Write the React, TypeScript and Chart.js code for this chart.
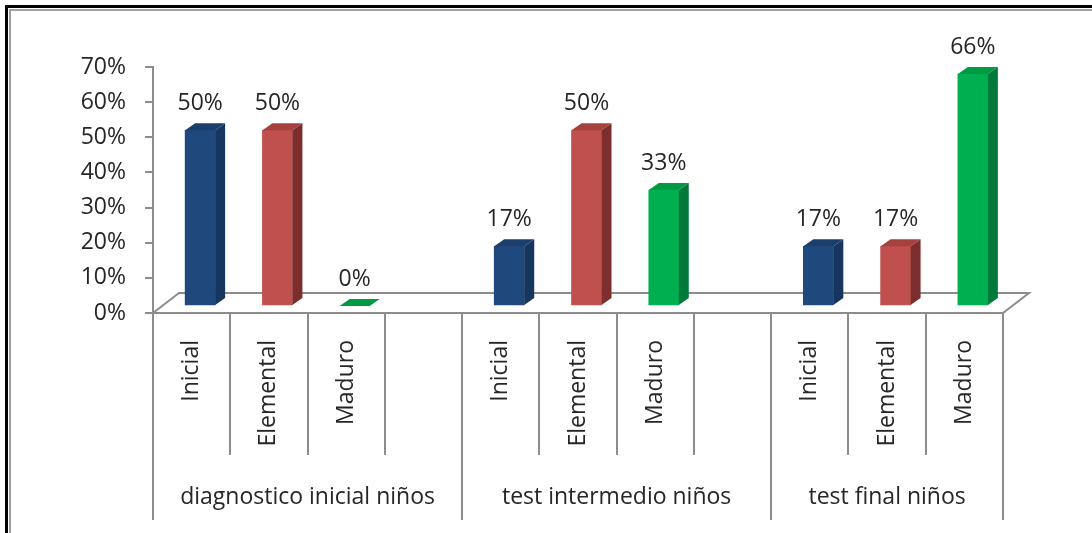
import React, { useEffect, useRef } from "react";
import { Chart, registerables } from "chart.js";

Chart.register(...registerables);

// ---------- data ----------
const categoryLabels = [
  "Inicial", "Elemental", "Maduro", "",
  "Inicial", "Elemental", "Maduro", "",
  "Inicial", "Elemental", "Maduro",
];
const groupLabels = ["diagnostico inicial niños", "test intermedio niños", "test final niños"];
const groupSlots = [4, 4, 3];
const levelNames = ["Inicial", "Elemental", "Maduro"];
const inicial = [0.5, 0.17, 0.17];
const elemental = [0.5, 0.5, 0.17];
const maduro = [0, 0.33, 0.66];
const yTickValues = [0, 0.1, 0.2, 0.3, 0.4, 0.5, 0.6, 0.7];
const yTickLabels = ["0%", "10%", "20%", "30%", "40%", "50%", "60%", "70%"];

// ---------- styles ----------
const frontColors = ["#1F497D", "#C0504D", "#00B050"];
const topColors = ["#1B3F6D", "#A3423F", "#009A45"];
const sideColors = ["#17365D", "#7B2E2C", "#00793A"];
const LINE = "#8C8C8C";
const TEXT = "#262626";
const FONT = "'Open Sans', 'Noto Sans', sans-serif";
const BAR_SHIFT = { x: 8.5, y: -7 };
const DEPTH = { x: 10, y: -7 };
const FLOOR = { x: 26, y: -20 };

const seriesValues = [inicial, elemental, maduro];
const groupStarts: number[] = [];
{
  let s = 0;
  for (const n of groupSlots) {
    groupStarts.push(s);
    s += n;
  }
}

const datasets = levelNames.map((name, li) => {
  const data: (number | null)[] = categoryLabels.map(() => null);
  seriesValues[li].forEach((v, g) => {
    data[groupStarts[g] + li] = v;
  });
  return {
    label: name,
    data,
    backgroundColor: frontColors[li],
    borderWidth: 0,
    grouped: false,
    barThickness: 30,
  };
});

const excel3d = {
  id: "excel3d",
  beforeDraw(chart: any) {
    const ctx = chart.ctx;
    ctx.save();
    ctx.fillStyle = "#ffffff";
    ctx.fillRect(0, 0, chart.width, chart.height);
    ctx.strokeStyle = "#000000";
    ctx.lineWidth = 3;
    ctx.strokeRect(6.5, 6.5, chart.width + 50, chart.height + 50);
    ctx.strokeStyle = "#A0A0A0";
    ctx.lineWidth = 2;
    ctx.strokeRect(10, 10, chart.width + 50, chart.height + 50);
    ctx.restore();
  },
  beforeDatasetsDraw(chart: any) {
    const { ctx, chartArea: a } = chart;
    ctx.save();
    ctx.strokeStyle = LINE;
    ctx.lineWidth = 2;
    ctx.beginPath();
    ctx.moveTo(a.left, a.bottom);
    ctx.lineTo(a.left + FLOOR.x, a.bottom + FLOOR.y);
    ctx.lineTo(a.right + FLOOR.x, a.bottom + FLOOR.y);
    ctx.lineTo(a.right, a.bottom);
    ctx.stroke();
    ctx.restore();
    ctx.save();
    ctx.translate(BAR_SHIFT.x, BAR_SHIFT.y);
  },
  afterDatasetsDraw(chart: any) {
    const ctx = chart.ctx;
    ctx.restore();
    ctx.save();
    chart.data.datasets.forEach((ds: any, di: number) => {
      const meta = chart.getDatasetMeta(di);
      meta.data.forEach((el: any, i: number) => {
        const v = ds.data[i];
        if (v == null) return;
        const p = el.getProps(["x", "y", "base", "width"], true);
        const l = p.x - p.width / 2 + BAR_SHIFT.x;
        const r = p.x + p.width / 2 + BAR_SHIFT.x;
        const t = p.y + BAR_SHIFT.y;
        const b = p.base + BAR_SHIFT.y;
        if (b - t > 0.5) {
          ctx.fillStyle = sideColors[di];
          ctx.beginPath();
          ctx.moveTo(r, t);
          ctx.lineTo(r + DEPTH.x, t + DEPTH.y);
          ctx.lineTo(r + DEPTH.x, b + DEPTH.y);
          ctx.lineTo(r, b);
          ctx.closePath();
          ctx.fill();
        }
        ctx.fillStyle = topColors[di];
        ctx.beginPath();
        ctx.moveTo(l, t);
        ctx.lineTo(l + DEPTH.x, t + DEPTH.y);
        ctx.lineTo(r + DEPTH.x, t + DEPTH.y);
        ctx.lineTo(r, t);
        ctx.closePath();
        ctx.fill();
        ctx.fillStyle = TEXT;
        ctx.font = `23px ${FONT}`;
        ctx.textAlign = "center";
        ctx.textBaseline = "alphabetic";
        ctx.fillText(Math.round(v * 100) + "%", (l + r) / 2, t + DEPTH.y - 13);
      });
    });
    ctx.restore();
  },
  afterDraw(chart: any) {
    const { ctx, chartArea: a } = chart;
    const xs = chart.scales.x;
    const slot = xs.getPixelForValue(1) - xs.getPixelForValue(0);
    const edge = (k: number) => xs.getPixelForValue(k) - slot / 2;
    const majors = new Set<number>();
    groupStarts.forEach((s) => majors.add(s));
    majors.add(categoryLabels.length);
    ctx.save();
    ctx.strokeStyle = LINE;
    ctx.lineWidth = 2;
    for (let k = 0; k <= categoryLabels.length; k++) {
      const x = Math.round(edge(k));
      const len = majors.has(k) ? 207 : 142;
      ctx.beginPath();
      ctx.moveTo(x, a.bottom);
      ctx.lineTo(x, a.bottom + len);
      ctx.stroke();
    }
    ctx.fillStyle = TEXT;
    ctx.font = `23px ${FONT}`;
    ctx.textAlign = "center";
    ctx.textBaseline = "alphabetic";
    groupLabels.forEach((g, gi) => {
      const x0 = edge(groupStarts[gi]);
      const x1 = edge(groupStarts[gi] + groupSlots[gi]);
      ctx.fillText(g, (x0 + x1) / 2, a.bottom + 191);
    });
    ctx.restore();
  },
};

export default function App() {
  const ref = useRef<HTMLCanvasElement | null>(null);
  useEffect(() => {
    if (!ref.current) return;
    Chart.defaults.font.family = FONT;
    const chart = new Chart(ref.current, {
      type: "bar",
      data: { labels: categoryLabels, datasets: datasets as any },
      options: {
        responsive: false,
        animation: false,
        devicePixelRatio: 1,
        layout: { padding: { left: 0, top: 67, right: 89, bottom: 0 } },
        plugins: {
          legend: { display: false },
          tooltip: { enabled: false },
          title: { display: false },
        },
        scales: {
          x: {
            offset: true,
            grid: { display: false, drawTicks: false },
            border: { display: true, color: LINE, width: 2 },
            ticks: {
              autoSkip: false,
              minRotation: 90,
              maxRotation: 90,
              padding: 27,
              color: TEXT,
              font: { size: 23, family: FONT },
            },
            afterFit: (s: any) => {
              s.height = 220;
            },
          },
          y: {
            min: 0,
            max: 0.7,
            afterBuildTicks: (s: any) => {
              s.ticks = yTickValues.map((v) => ({ value: v }));
            },
            grid: {
              drawOnChartArea: false,
              drawTicks: true,
              tickLength: 8,
              color: LINE,
              lineWidth: 2,
            },
            border: { display: true, color: LINE, width: 2 },
            ticks: {
              padding: 19,
              color: TEXT,
              font: { size: 23, family: FONT },
              callback: (_v: any, i: number) => yTickLabels[i],
            },
            afterFit: (s: any) => {
              s.width = 153;
            },
          },
        },
      },
      plugins: [excel3d],
    });
    return () => chart.destroy();
  }, []);
  return (
    <canvas
      ref={ref}
      width={1092}
      height={533}
      style={{ position: "fixed", left: 0, top: 0, display: "block" }}
    />
  );
}
